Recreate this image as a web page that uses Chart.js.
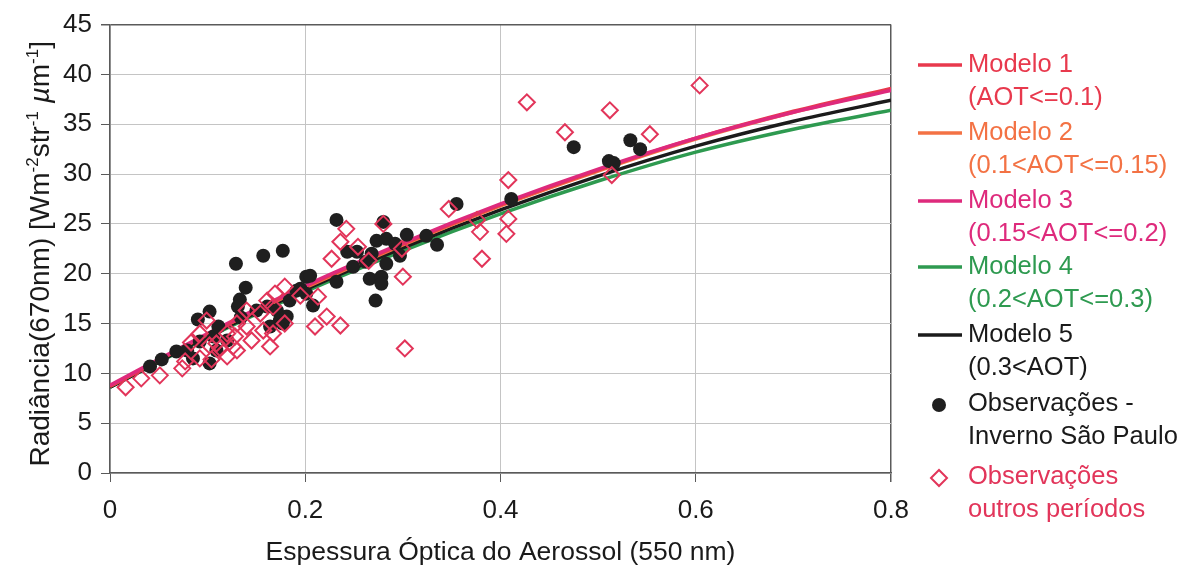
<!DOCTYPE html>
<html>
<head>
<meta charset="utf-8">
<script src="https://cdn.jsdelivr.net/npm/chart.js@4.4.0/dist/chart.umd.min.js"></script>
<style>
  html, body { margin: 0; padding: 0; background: #ffffff; }
  #wrap { width: 1190px; height: 574px; }
</style>
</head>
<body>
<div id="wrap"><canvas id="c" width="1190" height="574"></canvas></div>
<script>
// Espessura óptica (AOT 550 nm) at which each model curve is sampled
const modelAOT = [0, 0.1, 0.2, 0.3, 0.4, 0.5, 0.6, 0.7, 0.8];
// Radiância 670 nm for each model
const modelo1 = [8.7, 13.9, 18.7, 23.0, 26.9, 30.4, 33.6, 36.3, 38.6];
const modelo2 = [8.7, 13.9, 18.6, 22.9, 26.8, 30.3, 33.5, 36.2, 38.5];
const modelo3 = [8.8, 14.0, 18.8, 23.1, 27.0, 30.5, 33.6, 36.2, 38.4];
const modelo4 = [8.6, 13.6, 18.2, 22.3, 26.0, 29.3, 32.2, 34.5, 36.4];
const modelo5 = [8.6, 13.7, 18.4, 22.6, 26.4, 29.8, 32.8, 35.3, 37.4];

// Observações - Inverno São Paulo: [AOT, radiância]
const invernoSP = [
  [0.041, 10.7], [0.053, 11.4], [0.068, 12.2], [0.079, 12.3], [0.085, 11.5],
  [0.090, 15.4], [0.092, 13.2], [0.102, 16.2], [0.102, 11.0], [0.106, 13.7],
  [0.109, 12.3], [0.111, 14.7], [0.120, 13.3], [0.129, 21.0], [0.157, 21.8],
  [0.177, 22.3], [0.139, 18.6], [0.133, 17.4], [0.131, 16.7], [0.134, 15.6],
  [0.150, 16.3], [0.161, 16.7], [0.171, 16.3], [0.174, 15.3], [0.164, 14.7],
  [0.177, 15.0], [0.181, 15.7], [0.184, 17.3], [0.191, 18.3], [0.201, 19.7],
  [0.195, 18.5], [0.201, 18.0], [0.208, 16.8], [0.205, 19.8], [0.232, 25.4],
  [0.232, 19.2], [0.243, 22.2], [0.253, 22.2], [0.249, 20.7], [0.262, 21.2],
  [0.268, 22.0], [0.266, 19.5], [0.272, 17.3], [0.273, 23.3], [0.278, 19.7],
  [0.278, 19.0], [0.280, 25.2], [0.283, 23.5], [0.283, 21.0], [0.292, 23.0],
  [0.297, 21.8], [0.304, 23.9], [0.324, 23.8], [0.335, 22.9], [0.355, 27.0],
  [0.411, 27.5], [0.475, 32.7], [0.511, 31.3], [0.516, 31.1], [0.533, 33.4],
  [0.543, 32.5]
];

// Observações outros períodos: [AOT, radiância]
const outrosPeriodos = [
  [0.016, 8.6], [0.032, 9.5], [0.051, 9.8], [0.074, 10.5], [0.077, 11.2],
  [0.083, 13.1], [0.092, 11.5], [0.092, 14.0], [0.099, 15.3], [0.102, 12.8],
  [0.104, 11.4], [0.109, 13.0], [0.113, 12.5], [0.120, 11.7], [0.120, 14.0],
  [0.126, 12.7], [0.128, 13.7], [0.130, 15.0], [0.130, 12.3], [0.140, 16.3],
  [0.140, 14.7], [0.145, 13.3], [0.154, 16.0], [0.157, 14.3], [0.161, 17.3],
  [0.164, 12.7], [0.167, 14.0], [0.167, 16.7], [0.169, 18.0], [0.179, 15.0],
  [0.179, 18.7], [0.195, 17.8], [0.210, 14.7], [0.213, 17.7], [0.222, 15.7],
  [0.227, 21.5], [0.236, 23.2], [0.236, 14.8], [0.242, 24.5], [0.254, 22.7],
  [0.265, 21.3], [0.280, 25.0], [0.299, 22.5], [0.300, 19.7], [0.302, 12.5],
  [0.347, 26.5], [0.376, 25.4], [0.379, 24.2], [0.381, 21.5], [0.406, 24.0],
  [0.408, 25.5], [0.408, 29.4], [0.427, 37.2], [0.466, 34.2], [0.512, 36.4],
  [0.514, 29.9], [0.553, 34.0], [0.604, 38.9]
];

const xTickValues = [0, 0.2, 0.4, 0.6, 0.8];
const xTickLabels = ['0', '0.2', '0.4', '0.6', '0.8'];
const yTickValues = [0, 5, 10, 15, 20, 25, 30, 35, 40, 45];

const legendLabels = [
  ['Modelo 1', '(AOT<=0.1)'],
  ['Modelo 2', '(0.1<AOT<=0.15)'],
  ['Modelo 3', '(0.15<AOT<=0.2)'],
  ['Modelo 4', '(0.2<AOT<=0.3)'],
  ['Modelo 5', '(0.3<AOT)'],
  ['Observações -', 'Inverno São Paulo'],
  ['Observações', 'outros períodos']
];
const xTitle = 'Espessura Óptica do Aerossol (550 nm)';
// y title pieces: [text, kind] where kind 0 = normal, 1 = superscript, 2 = italic
const yTitleParts = [
  ['Radiância(670nm) [Wm', 0], ['-2', 1], ['str', 0], ['-1', 1],
  [' ', 0], ['µ', 2], ['m', 0], ['-1', 1], [']', 0]
];

const COLORS = {
  m1: '#e8394d',
  m2: '#f37244',
  m3: '#de2a7c',
  m4: '#2e9a50',
  m5: '#1b1b1b',
  dot: '#1f1f1f',
  diamond: '#e2355a'
};
const FONT = '"Liberation Sans", Arial, sans-serif';

function curve(values) {
  return modelAOT.map((x, i) => ({ x: x, y: values[i] }));
}
function pts(list) {
  return list.map(p => ({ x: p[0], y: p[1] }));
}
function lineSet(label, values, color, order) {
  return {
    type: 'line', label: label, data: curve(values),
    borderColor: color, backgroundColor: color, borderWidth: 3.5,
    pointRadius: 0, cubicInterpolationMode: 'monotone', fill: false, order: order
  };
}

const whiteBg = {
  id: 'whiteBg',
  beforeDraw(chart) {
    const ctx = chart.ctx;
    ctx.save();
    ctx.fillStyle = '#ffffff';
    ctx.fillRect(0, 0, chart.width, chart.height);
    ctx.restore();
  }
};

const yTitlePlugin = {
  id: 'yTitle',
  afterDraw(chart) {
    const ctx = chart.ctx;
    const base = 28, sup = 17;
    const fontFor = k => (k === 1 ? sup + 'px ' + FONT : (k === 2 ? 'italic ' : '') + base + 'px ' + FONT);
    ctx.save();
    const widths = yTitleParts.map(p => { ctx.font = fontFor(p[1]); return ctx.measureText(p[0]).width; });
    const total = widths.reduce((a, b) => a + b, 0);
    const cy = (chart.chartArea.top + chart.chartArea.bottom) / 2 + 5;
    ctx.translate(49, cy);
    ctx.rotate(-Math.PI / 2);
    ctx.fillStyle = '#1a1a1a';
    ctx.textBaseline = 'alphabetic';
    ctx.textAlign = 'left';
    let x = -total / 2;
    yTitleParts.forEach((p, i) => {
      ctx.font = fontFor(p[1]);
      ctx.fillText(p[0], x, p[1] === 1 ? -11 : 0);
      x += widths[i];
    });
    ctx.restore();
  }
};

const legendPlugin = {
  id: 'sideLegend',
  afterDraw(chart) {
    const ctx = chart.ctx;
    const firstLine = [65, 133, 201, 267, 335, 404, 477];
    const lineGap = 33;
    const colors = [COLORS.m1, COLORS.m2, COLORS.m3, COLORS.m4, COLORS.m5, COLORS.dot, COLORS.diamond];
    const textColors = [COLORS.m1, COLORS.m2, COLORS.m3, COLORS.m4, '#1a1a1a', '#1a1a1a', COLORS.diamond];
    ctx.save();
    ctx.font = '25.5px ' + FONT;
    ctx.textBaseline = 'middle';
    ctx.textAlign = 'left';
    legendLabels.forEach((lines, i) => {
      const y = firstLine[i];
      if (i < 5) {
        ctx.strokeStyle = colors[i];
        ctx.lineWidth = 3.5;
        ctx.beginPath();
        ctx.moveTo(918, y);
        ctx.lineTo(962, y);
        ctx.stroke();
      } else if (i === 5) {
        ctx.fillStyle = colors[i];
        ctx.beginPath();
        ctx.arc(939, y + 1, 7, 0, Math.PI * 2);
        ctx.fill();
      } else {
        ctx.strokeStyle = colors[i];
        ctx.lineWidth = 2;
        ctx.beginPath();
        ctx.moveTo(931, y + 1);
        ctx.lineTo(939, y - 7);
        ctx.lineTo(947, y + 1);
        ctx.lineTo(939, y + 9);
        ctx.closePath();
        ctx.stroke();
      }
      ctx.fillStyle = textColors[i];
      lines.forEach((t, j) => ctx.fillText(t, 968, y + j * lineGap));
    });
    ctx.restore();
  }
};

const gridGray = '#c4c4c4';
const frameGray = '#5a5a5a';

new Chart(document.getElementById('c'), {
  data: {
    datasets: [
      lineSet(legendLabels[0].join(' '), modelo1, COLORS.m1, 4),
      lineSet(legendLabels[1].join(' '), modelo2, COLORS.m2, 5),
      lineSet(legendLabels[2].join(' '), modelo3, COLORS.m3, 3),
      lineSet(legendLabels[3].join(' '), modelo4, COLORS.m4, 7),
      lineSet(legendLabels[4].join(' '), modelo5, COLORS.m5, 6),
      {
        type: 'scatter', label: legendLabels[5].join(' '), data: pts(invernoSP),
        pointStyle: 'circle', pointRadius: 7, backgroundColor: COLORS.dot,
        borderColor: COLORS.dot, borderWidth: 0, order: 2
      },
      {
        type: 'scatter', label: legendLabels[6].join(' '), data: pts(outrosPeriodos),
        pointStyle: 'rectRot', pointRadius: 8, backgroundColor: 'rgba(0,0,0,0)',
        borderColor: COLORS.diamond, borderWidth: 2, order: 1
      }
    ]
  },
  options: {
    responsive: false,
    animation: false,
    events: [],
    layout: { padding: { left: 0, top: 24, right: 299, bottom: 0 } },
    plugins: {
      legend: { display: false },
      tooltip: { enabled: false }
    },
    scales: {
      x: {
        type: 'linear', position: 'bottom', min: 0, max: 0.8,
        afterBuildTicks(scale) { scale.ticks = xTickValues.map(v => ({ value: v })); },
        afterFit(scale) { scale.height = 101; },
        ticks: {
          color: '#1a1a1a', padding: 13, maxRotation: 0, autoSkip: false,
          font: { family: FONT, size: 26 },
          callback: (v) => xTickLabels[xTickValues.indexOf(v)] ?? String(v)
        },
        grid: {
          color: (c) => (c.tick && c.tick.value === 0.8 ? frameGray : gridGray),
          lineWidth: (c) => (c.tick && c.tick.value === 0.8 ? 1.5 : 1),
          tickColor: frameGray, tickLength: 9, drawTicks: true
        },
        border: { color: frameGray, width: 1.5 },
        title: {
          display: true, text: xTitle, color: '#1a1a1a',
          font: { family: FONT, size: 26.5 }, padding: { top: 0, bottom: 5 }
        }
      },
      y: {
        type: 'linear', position: 'left', min: 0, max: 45,
        afterBuildTicks(scale) { scale.ticks = yTickValues.map(v => ({ value: v })); },
        afterFit(scale) { scale.width = 110; },
        ticks: {
          color: '#1a1a1a', padding: 9, autoSkip: false,
          font: { family: FONT, size: 26 }
        },
        grid: {
          color: (c) => (c.tick && c.tick.value === 45 ? frameGray : gridGray),
          lineWidth: (c) => (c.tick && c.tick.value === 45 ? 1.5 : 1),
          tickColor: frameGray, tickLength: 9, drawTicks: true
        },
        border: { color: frameGray, width: 1.5 }
      }
    }
  },
  plugins: [whiteBg, yTitlePlugin, legendPlugin]
});
</script>
</body>
</html>
